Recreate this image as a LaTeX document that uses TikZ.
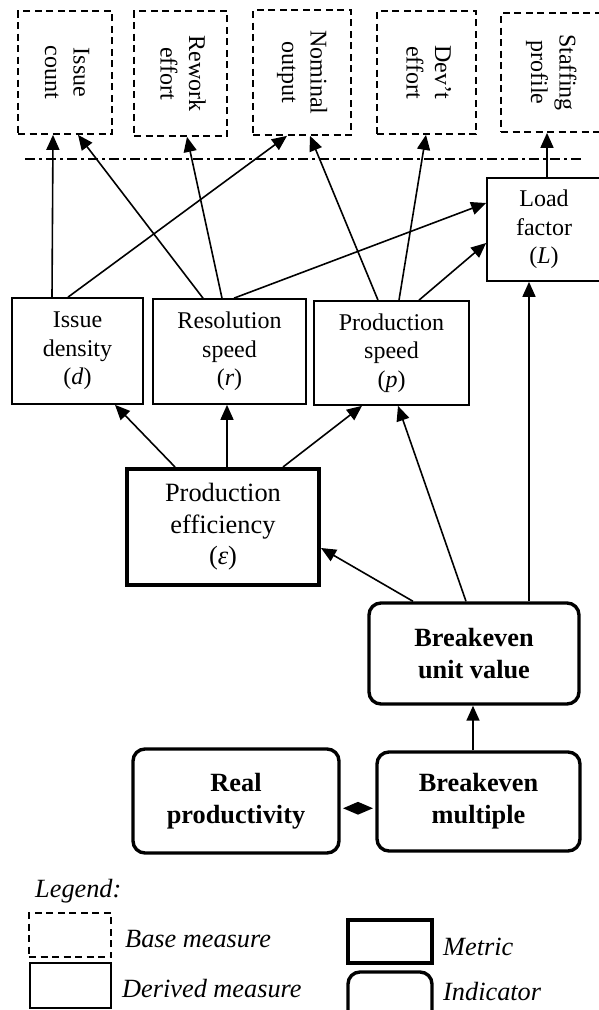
\documentclass[tikz,border=0pt]{standalone}
\usepackage{fontspec}
\setmainfont{Liberation Serif}
\usetikzlibrary{arrows.meta,shapes.geometric,calc}
\begin{document}
\begin{tikzpicture}[x=1pt,y=-1pt,
  base/.style={draw, line width=1.7pt, dash pattern=on 7pt off 4.5pt, inner sep=0pt, align=center, font=\fontsize{24}{28.5}\selectfont},
  derived/.style={draw, line width=1.7pt, align=center, inner sep=0pt, font=\fontsize{24}{28.5}\selectfont},
  metric/.style={draw, line width=4pt, align=center, inner sep=0pt, font=\fontsize{26.4}{31.5}\selectfont},
  indicator/.style={draw, line width=3.4pt, rounded corners=12pt, align=center, inner sep=0pt, font=\bfseries\fontsize{26.3}{32}\selectfont},
  arr/.style={line width=1.6pt, -{Triangle[length=15pt,width=13pt]}},
  legtext/.style={font=\itshape\fontsize{26.3}{30}\selectfont, anchor=base west, inner sep=0pt},
]
\useasboundingbox (0,0) rectangle (599,1010);

% base measures (top)
\node[base, minimum width=94pt, minimum height=123pt] (ic) at (65,72.5)
  {\rotatebox{-90}{\begin{tabular}{@{}c@{}}Issue\\count\end{tabular}}};
\node[base, minimum width=93pt, minimum height=125pt] (re) at (180.5,73.5)
  {\rotatebox{-90}{\begin{tabular}{@{}c@{}}Rework\\effort\end{tabular}}};
\node[base, minimum width=98pt, minimum height=125pt] (no) at (302,72.5)
  {\rotatebox{-90}{\begin{tabular}{@{}c@{}}Nominal\\output\end{tabular}}};
\node[base, minimum width=99pt, minimum height=123pt] (de) at (426.5,72.5)
  {\rotatebox{-90}{\begin{tabular}{@{}c@{}}Dev’t\\effort\end{tabular}}};
\node[base, minimum width=100pt, minimum height=119pt] (sp) at (551,72.5)
  {\rotatebox{-90}{\begin{tabular}{@{}c@{}}Staffing\\profile\end{tabular}}};

% separator
\draw[line width=1.5pt, dash pattern=on 10pt off 4pt on 3pt off 4pt] (25,159) -- (582,159);

% derived measures
\node[derived, minimum width=114pt, minimum height=103pt] (lf) at (544,229.5)
  {Load\\factor\\(\textit{L})};
\node[derived, minimum width=131pt, minimum height=106pt] (id) at (77.5,351)
  {Issue\\density\\(\textit{d})};
\node[derived, minimum width=153pt, minimum height=105pt] (rs) at (229.5,351.5)
  {Resolution\\speed\\(\textit{r})};
\node[derived, minimum width=155pt, minimum height=104pt] (ps) at (391.5,353)
  {Production\\speed\\(\textit{p})};

% metric
\node[metric, minimum width=192pt, minimum height=116pt] (pe) at (223,527)
  {Production\\efficiency\\(\textit{ε})};

% indicators
\node[indicator, minimum width=210pt, minimum height=101pt] (buv) at (474,653.5)
  {Breakeven\\unit value};
\node[indicator, minimum width=206pt, minimum height=104pt] (rp) at (236,801)
  {Real\\productivity};
\node[indicator, minimum width=203pt, minimum height=99pt] (bm) at (478.5,801.5)
  {Breakeven\\multiple};
\node[diamond, fill=black, inner sep=0pt, minimum width=30pt, minimum height=13pt, aspect=2.3]
  (dm) at ($(rp.east)!0.5!(bm.west)+(0,7)$) {};

% connectors
\draw[arr] ([xshift=-25.5pt]id.north) -- ([xshift=-12pt]ic.south);
\draw[arr] ([xshift=-9.5pt]id.north) -- ([xshift=-15pt]no.south);
\draw[arr] ([xshift=-26.5pt]rs.north) -- ([xshift=13pt]ic.south);
\draw[arr] ([xshift=-7.5pt]rs.north) -- ([xshift=6.5pt]re.south);
\draw[arr] ([xshift=4.5pt]rs.north) -- ([yshift=26.5pt]lf.west);
\draw[arr] ([xshift=-13.5pt]ps.north) -- ([xshift=8pt]no.south);
\draw[arr] ([xshift=7.5pt]ps.north) -- ([xshift=-0.5pt]de.south);
\draw[arr] ([xshift=27.5pt]ps.north) -- ([yshift=-13.5pt]lf.west);
\draw[arr] ([xshift=3pt]lf.north) -- ([xshift=-4pt]sp.south);
\draw[arr] ([xshift=-48pt]pe.north) -- ([xshift=37.5pt]id.south);
\draw[arr] ([xshift=4pt]pe.north) -- ([xshift=-2.5pt]rs.south);
\draw[arr] ([xshift=60pt]pe.north) -- ([xshift=-29.5pt]ps.south);
\draw[arr] ([xshift=-61pt]buv.north) -- ([yshift=-21pt]pe.east);
\draw[arr] ([xshift=-8pt]buv.north) -- ([xshift=6.5pt]ps.south);
\draw[arr] ([xshift=55pt]buv.north) -- ([xshift=-15pt]lf.south);
\draw[arr] ([xshift=-5.5pt]bm.north) -- ([xshift=-1pt]buv.south);

% legend
\node[legtext] (lg) at (35,897) {Legend:};
\node[base, minimum width=82pt, minimum height=44pt] (lb) at (70,935) {};
\node[legtext] (lbt) at (125,947) {Base measure};
\node[derived, minimum width=81pt, minimum height=45pt] (ld) at (70.5,985.5) {};
\node[legtext] (ldt) at (122,997) {Derived measure};
\node[metric, minimum width=84pt, minimum height=43pt] (lm) at (390,941.5) {};
\node[legtext] (lmt) at (443,955) {Metric};
\node[indicator, minimum width=84pt, minimum height=60pt] (li) at (390,1002) {};
\node[legtext] (lit) at (443,1000) {Indicator};
\end{tikzpicture}
\end{document}
